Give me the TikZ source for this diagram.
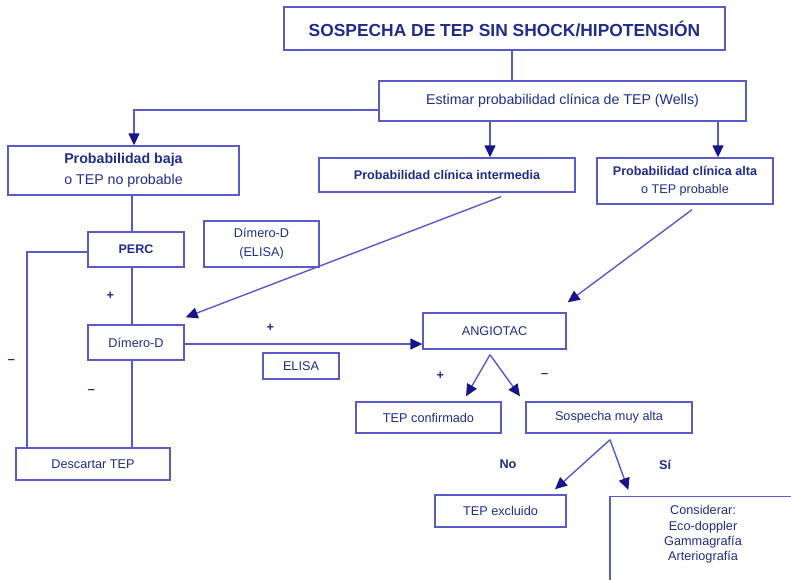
\documentclass[tikz,border=0pt]{standalone}
\usepackage{fontspec}
\setmainfont{Liberation Sans}
\usetikzlibrary{arrows.meta}
\definecolor{txtblue}{HTML}{202C8C}
\definecolor{lineblue}{HTML}{5A5AC8}
\definecolor{tipblue}{HTML}{16168A}

\begin{document}
\begin{tikzpicture}[
  x=1pt, y=-1pt,
  font=\fontsize{12.7}{15.2}\selectfont, text=txtblue,
  box/.style={rectangle, draw=lineblue, line width=1.4pt, align=center,
              inner sep=0pt},
  line/.style={lineblue, line width=1.4pt},
  arr/.style={line, -{Triangle[length=12pt, width=11pt, color=tipblue]}},
  lbl/.style={font=\bfseries\fontsize{12.7}{15}\selectfont, text=txtblue}
]
\useasboundingbox (0,0) rectangle (791,579);
\clip (0,0) rectangle (791,579);
% top of the chart
\node (title) [box, minimum width=441pt, minimum height=43pt,
  font=\bfseries\fontsize{17.4}{20}\selectfont] at (504.5,28.5)
  {SOSPECHA DE TEP SIN SHOCK/HIPOTENSIÓN};
\node (wells) [box, minimum width=367pt, minimum height=40pt,
  font=\fontsize{14.2}{17}\selectfont] at (562.5,101)
  {Estimar probabilidad clínica de TEP (Wells)};
\node (baja) [box, minimum width=231pt, minimum height=49pt,
  font=\fontsize{14.2}{21}\selectfont] at (123.5,170.5)
  {\textbf{Probabilidad baja}\\o TEP no probable};
\node (inter) [box, minimum width=256pt, minimum height=34pt,
  font=\bfseries\fontsize{12.6}{15}\selectfont] at (447,175)
  {Probabilidad clínica intermedia};
\node (alta) [box, minimum width=176pt, minimum height=46pt,
  font=\fontsize{12.6}{18}\selectfont] at (685,181)
  {\textbf{Probabilidad clínica alta}\\o TEP probable};
% left branch
\node (perc) [box, minimum width=96pt, minimum height=35pt,
  font=\bfseries\fontsize{12.5}{15}\selectfont] at (136,249.5) {PERC};
\node (dimelisa) [box, minimum width=115pt, minimum height=46pt,
  font=\fontsize{12.7}{19}\selectfont] at (261.5,244)
  {Dímero-D\\(ELISA)};
\node (dimero) [box, minimum width=96pt, minimum height=35pt]
  at (136,342.5) {Dímero-D};
\node (elisa) [box, minimum width=76pt, minimum height=26pt]
  at (301,366) {ELISA};
\node (descartar) [box, minimum width=154pt, minimum height=32pt]
  at (93,464) {Descartar TEP};
% right branch
\node (angio) [box, minimum width=143pt, minimum height=36pt]
  at (494.5,331) {ANGIOTAC};
\node (confirm) [box, minimum width=145pt, minimum height=31pt]
  at (428.5,417.5) {TEP confirmado};
\node (sospecha) [box, minimum width=166pt, minimum height=31pt]
  at (609,417.5) {Sospecha muy alta};
\node (excluido) [box, minimum width=131pt, minimum height=32pt]
  at (500.5,511) {TEP excluido};
\node (considerar) [box, anchor=north, minimum width=186pt,
  inner ysep=9pt, text depth=60pt] at (703,496)
  {Considerar:\\Eco-doppler\\Gammagrafía\\Arteriografía};

\draw[line] ([xshift=7.5pt]title.south) -- ([xshift=7.5pt]title.south |- wells.north);
\draw[arr] ([yshift=-9pt]wells.west) -| ([xshift=10.5pt]baja.north);
\draw[arr] ([xshift=43pt]inter.north |- wells.south) -- ([xshift=43pt]inter.north);
\draw[arr] ([xshift=33pt]alta.north |- wells.south) -- ([xshift=33pt]alta.north);
\draw[line] ([xshift=-4pt]perc.north |- baja.south) -- ([xshift=-4pt]perc.north);
\draw[line] ([xshift=-4pt]perc.south) -- ([xshift=-4pt]dimero.north)
  node[lbl, midway, left=14pt] {+};
\draw[line] ([yshift=-2.5pt]perc.west) -| ([xshift=-66pt]descartar.north)
  node[lbl, pos=0.78, left=8pt] {--};
\draw[line] ([xshift=39pt]descartar.north |- dimero.south) -- ([xshift=39pt]descartar.north)
  node[lbl, pos=0.35, left=33pt] {--};
\draw[arr] ([shift={(54pt,-4pt)}]inter.south) -- ([shift={(1pt,7pt)}]dimero.north east);
\draw[arr] ([yshift=-1.5pt]dimero.east) -- ([yshift=-1.5pt]dimero.east -| angio.west)
  node[lbl, pos=0.36, above=8pt] {+};
\draw[arr] ([shift={(7pt,-5pt)}]alta.south) -- ([shift={(1pt,10pt)}]angio.north east);
\draw[arr] ([shift={(-4.5pt,-5pt)}]angio.south) -- ([shift={(37.5pt,5pt)}]confirm.north)
  node[lbl, midway, left=30pt] {+};
\draw[arr] ([shift={(-4.5pt,-5pt)}]angio.south) -- ([shift={(-89pt,5pt)}]sospecha.north)
  node[lbl, midway, right=32pt] {--};
\draw[arr] ([shift={(1pt,-6pt)}]sospecha.south) -- ([shift={(54.5pt,5pt)}]excluido.north)
  node[lbl, midway, left=62pt] {No};
\draw[arr] ([shift={(1pt,-6pt)}]sospecha.south) -- ([shift={(19pt,6pt)}]considerar.north west)
  node[lbl, midway, right=36pt] {Sí};
\end{tikzpicture}
\end{document}
